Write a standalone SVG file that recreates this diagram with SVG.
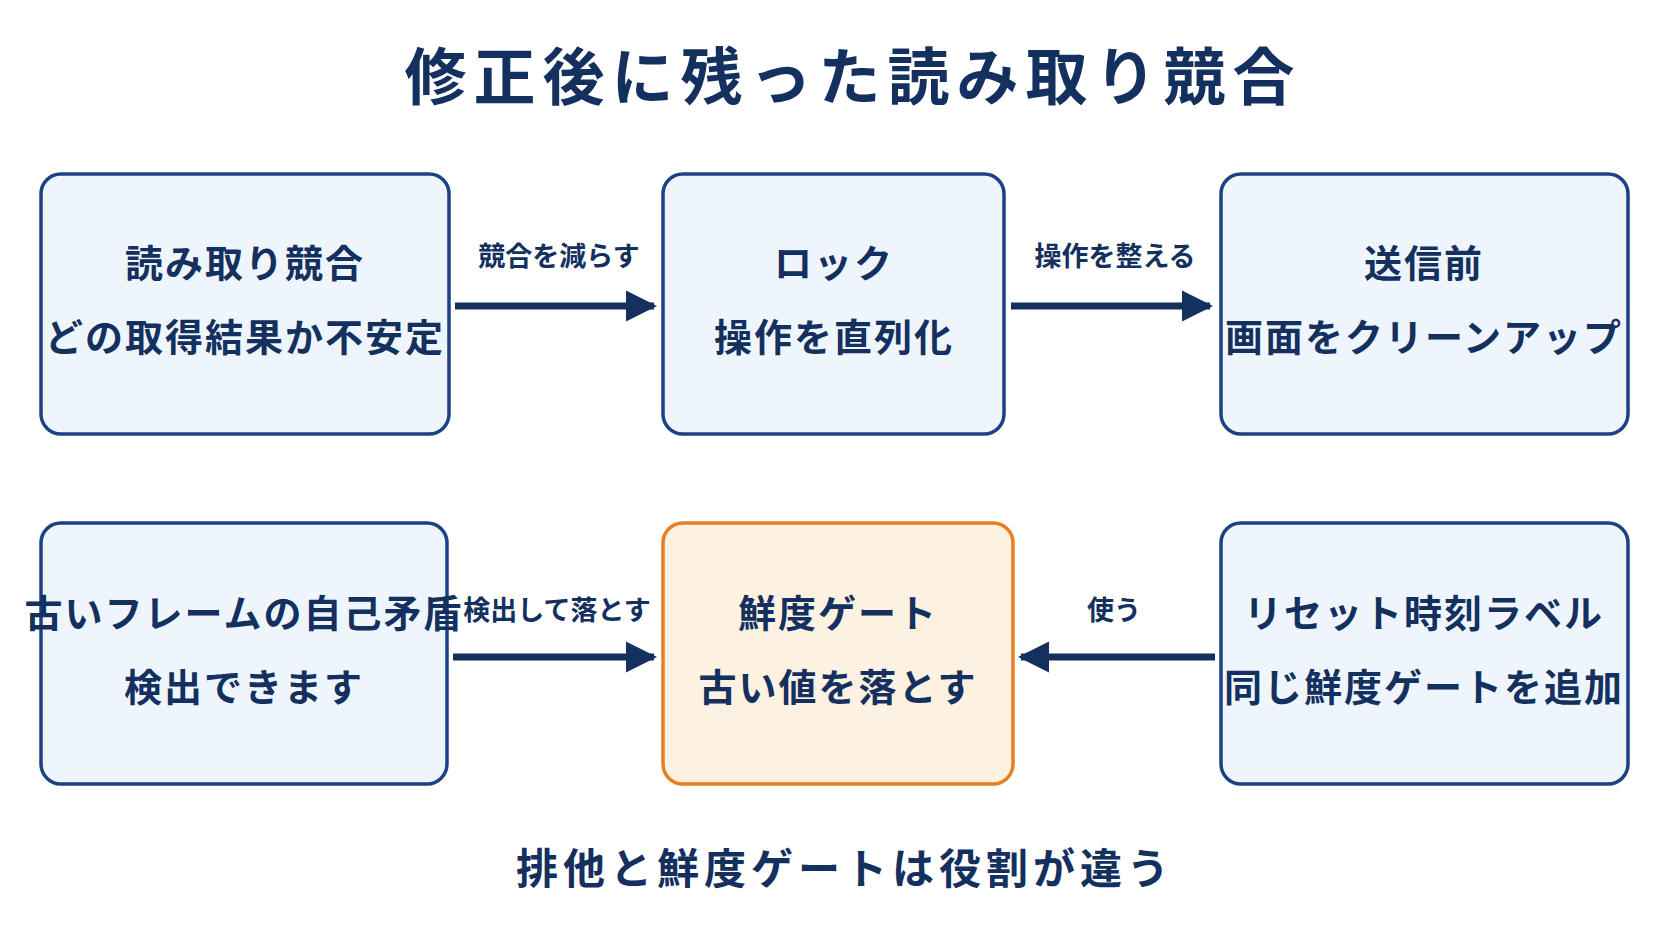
<svg xmlns="http://www.w3.org/2000/svg" width="1672" height="941" viewBox="0 0 1672 941">
<defs>
<style>
text{font-family:"Noto Sans CJK JP","Noto Sans",sans-serif;fill:#13305e;font-weight:700;text-anchor:middle}
.box{fill:#eef5fd;stroke:#1d4283;stroke-width:3.5}
.hl{fill:#fdf1e1;stroke:#e9801f;stroke-width:3.5}
.n{font-size:38px;letter-spacing:2px}
.l{font-size:27px}
.c line{stroke:#13305e;stroke-width:7}
</style>
<marker id="a" viewBox="0 0 10 10" refX="9" refY="5" markerWidth="4.5" markerHeight="4.5" orient="auto" markerUnits="strokeWidth"><path d="M0,0L10,5L0,10z" fill="#13305e"/></marker>
</defs>
<rect width="1672" height="941" fill="#fff"/>
<text x="853" y="100" style="font-size:62px;letter-spacing:7px">修正後に残った読み取り競合</text>
<g id="n1"><rect class="box" x="41" y="174" width="408" height="260" rx="20"/><text class="n" x="245" y="277">読み取り競合</text><text class="n" x="245" y="351">どの取得結果か不安定</text></g>
<g id="n2"><rect class="box" x="663" y="174" width="341" height="260" rx="20"/><text class="n" x="834" y="277">ロック</text><text class="n" x="834" y="351">操作を直列化</text></g>
<g id="n3"><rect class="box" x="1221" y="174" width="407" height="260" rx="20"/><text class="n" x="1424" y="277">送信前</text><text class="n" x="1424" y="351">画面をクリーンアップ</text></g>
<g id="n4"><rect class="box" x="41" y="523" width="406" height="261" rx="20"/><text class="n" x="244" y="627">古いフレームの自己矛盾</text><text class="n" x="244" y="701">検出できます</text></g>
<g id="n5"><rect class="hl" x="663" y="523" width="350" height="261" rx="20"/><text class="n" x="838" y="627">鮮度ゲート</text><text class="n" x="838" y="701">古い値を落とす</text></g>
<g id="n6"><rect class="box" x="1221" y="523" width="407" height="261" rx="20"/><text class="n" x="1424" y="627">リセット時刻ラベル</text><text class="n" x="1424" y="701">同じ鮮度ゲートを追加</text></g>
<g class="c">
<line x1="455" y1="306" x2="654" y2="306" marker-end="url(#a)"/>
<line x1="1011" y1="306" x2="1210" y2="306" marker-end="url(#a)"/>
<line x1="453" y1="657" x2="654" y2="657" marker-end="url(#a)"/>
<line x1="1215" y1="657" x2="1021" y2="657" marker-end="url(#a)"/>
<text class="l" x="559" y="266">競合を減らす</text>
<text class="l" x="1115" y="266">操作を整える</text>
<text class="l" x="557" y="620">検出して落とす</text>
<text class="l" x="1114" y="620">使う</text>
</g>
<text x="845" y="884" style="font-size:42px;letter-spacing:5px">排他と鮮度ゲートは役割が違う</text>
</svg>
